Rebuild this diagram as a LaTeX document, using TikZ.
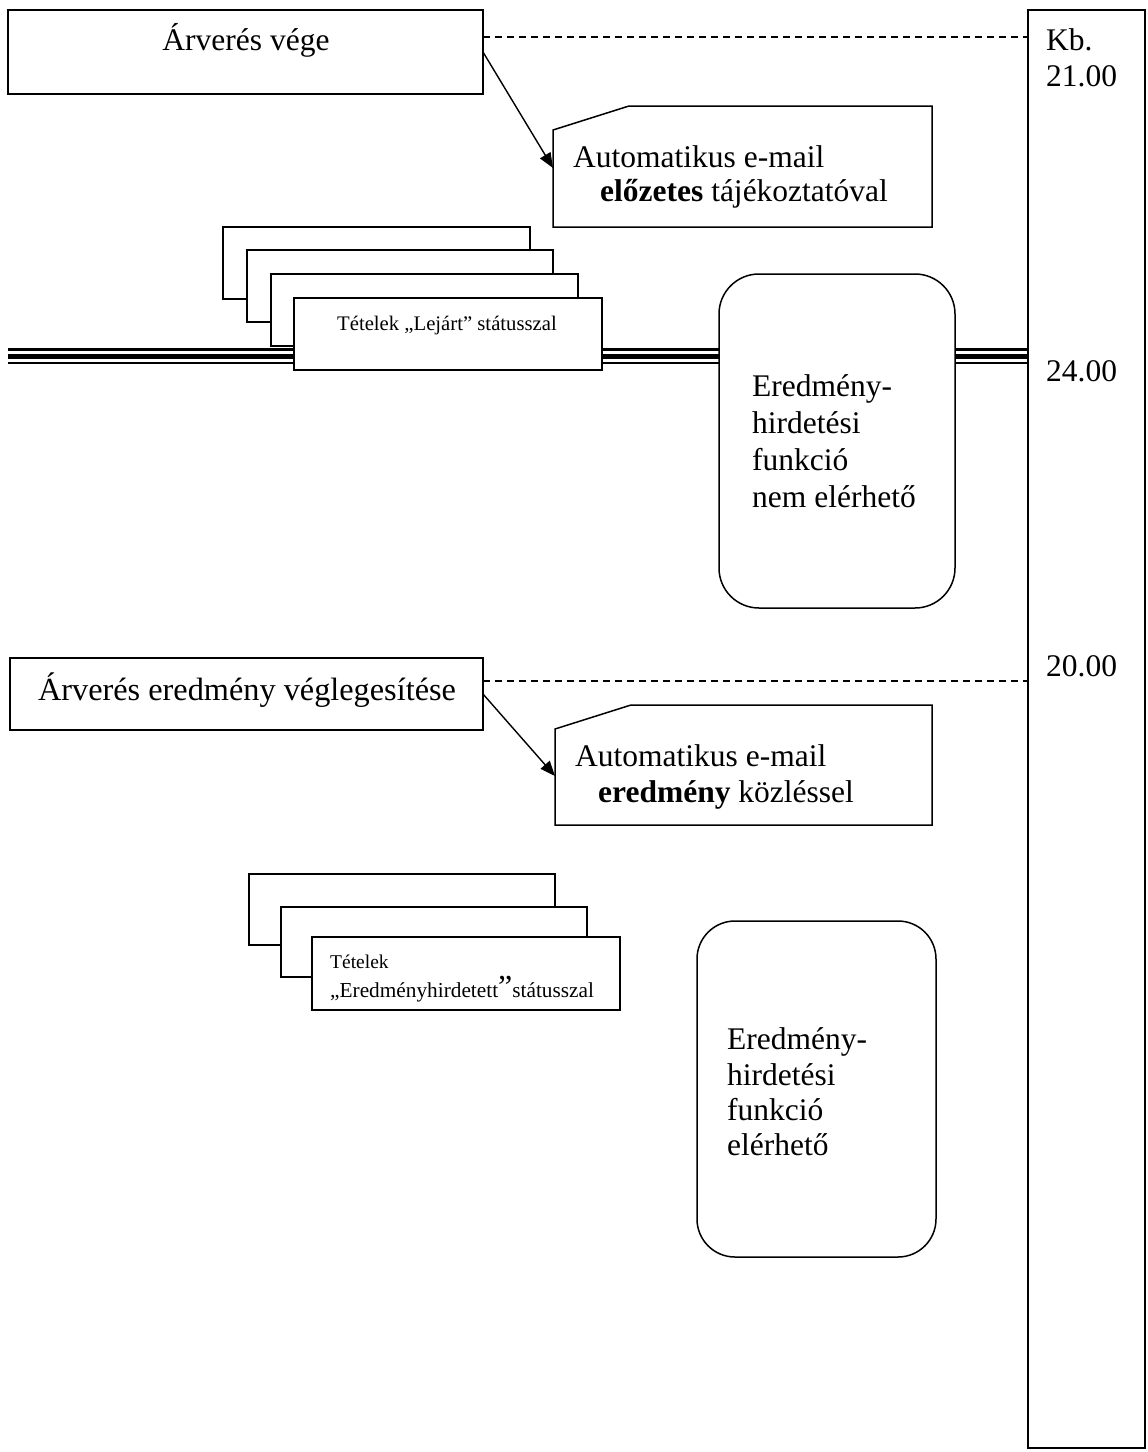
\documentclass[tikz,border=0pt]{standalone}
\usepackage{fontspec}
\setmainfont{Liberation Serif}
\usetikzlibrary{arrows.meta,calc}
\begin{document}
\begin{tikzpicture}[x=1pt,y=-1pt,
  frame/.style={draw=black,line width=1.5pt,fill=white,inner sep=0pt,outer sep=0pt,anchor=north west},
  area/.style={inner sep=0pt,outer sep=0pt,anchor=north west},
  big/.style={font=\fontsize{31.5}{36}\selectfont,inner sep=0pt,anchor=base west},
  small/.style={font=\fontsize{20.7}{24}\selectfont,inner sep=0pt,anchor=base west},
  tiny/.style={font=\fontsize{19.5}{23}\selectfont,inner sep=0pt,anchor=base west},
  conn/.style={line width=1.4pt,-{Triangle[length=15pt,width=12pt]}},
  guide/.style={line width=1.3pt,dash pattern=on 7pt off 5pt},
  card/.style={draw=black,line width=1.5pt,fill=white},
]
\useasboundingbox (0,0) rectangle (1148,1452);
\fill[white] (0,0) rectangle (1148,1452);

% right time bar
\node[frame,minimum width=117pt,minimum height=1438pt] (bar) at (1028,10) {};
\node[big] (kb) at (1046,50) {Kb.};
\node[big] (t21) at (1046,86) {21.00};
\node[big] (t24) at (1046,381) {24.00};
\node[big] (t20) at (1046,676) {20.00};

% ---------- top part ----------
\node[frame,minimum width=475pt,minimum height=84pt] (A) at (8,10) {};
\node[big,anchor=base] (tA) at (246,50) {Árverés vége};
\coordinate (d1) at (0,37);
\draw[guide] (A.east |- d1) -- (bar.west |- d1);

\node[area,minimum width=379pt,minimum height=121pt] (E1) at (553,106) {};
\draw[card] ($(E1.north west)+(0,24)$) -- ($(E1.north west)+(76,0)$) -- (E1.north east) -- (E1.south east) -- (E1.south west) -- cycle;
\coordinate (e1tip) at (553,168);
\draw[conn] (A.east) -- (e1tip);
\node[big] (e1a) at (573,167) {Automatikus e-mail};
\node[big] (e1b) at (600,201) {\textbf{előzetes} tájékoztatóval};

% stacked item boxes 1
\node[frame,minimum width=307pt,minimum height=72pt] (s11) at (223,227) {};
\node[frame,minimum width=306pt,minimum height=72pt] (s12) at (247,250) {};
\node[frame,minimum width=307pt,minimum height=72pt] (s13) at (271,274) {};

% triple time line
\coordinate (l0) at (8,356.5);
\draw[line width=2.5pt] (l0 |- 0,349.5) -- (bar.west |- 0,349.5);
\draw[line width=4.5pt] (l0) -- (bar.west |- l0);
\draw[line width=2pt] (l0 |- 0,363) -- (bar.west |- 0,363);

\node[frame,minimum width=308pt,minimum height=72pt] (s14) at (294,298) {};
\node[small] (s14t) at (337,330) {Tételek „Lejárt” státusszal};

\node[frame,rounded corners=40pt,minimum width=236pt,minimum height=334pt] (R1) at (719,274) {};
\node[big] (r1a) at (752,396) {Eredmény-};
\node[big] (r1b) at (752,433) {hirdetési};
\node[big] (r1c) at (752,470) {funkció};
\node[big] (r1d) at (752,507) {nem elérhető};

% ---------- bottom part ----------
\node[frame,minimum width=473pt,minimum height=72pt] (B) at (10,658) {};
\node[big,anchor=base,font=\fontsize{32.3}{36}\selectfont] (tB) at (247,700) {Árverés eredmény véglegesítése};
\coordinate (d2) at (0,681);
\draw[guide] (B.east |- d2) -- (bar.west |- d2);

\node[area,minimum width=377pt,minimum height=120pt] (E2) at (555,705) {};
\draw[card] ($(E2.north west)+(0,24)$) -- ($(E2.north west)+(76,0)$) -- (E2.north east) -- (E2.south east) -- (E2.south west) -- cycle;
\coordinate (e2tip) at (555,776);
\draw[conn] (B.east) -- (e2tip);
\node[big] (e2a) at (575,766) {Automatikus e-mail};
\node[big] (e2b) at (598,802) {\textbf{eredmény} közléssel};

% stacked item boxes 2
\node[frame,minimum width=306pt,minimum height=71pt] (s21) at (249,874) {};
\node[frame,minimum width=306pt,minimum height=70pt] (s22) at (281,907) {};
\node[frame,minimum width=308pt,minimum height=73pt] (s23) at (312,937) {};
\node[tiny] (s23a) at (330,968) {Tételek};
\node[tiny,font=\fontsize{21.3}{24}\selectfont] (s23b) at (330,997) {„Eredményhirdetett{\fontsize{32}{32}\selectfont ”}státusszal};

\node[frame,rounded corners=38pt,minimum width=239pt,minimum height=336pt] (R2) at (697,921) {};
\node[big] (r2a) at (727,1049) {Eredmény-};
\node[big] (r2b) at (727,1085) {hirdetési};
\node[big] (r2c) at (727,1120) {funkció};
\node[big] (r2d) at (727,1155) {elérhető};
\end{tikzpicture}
\end{document}
